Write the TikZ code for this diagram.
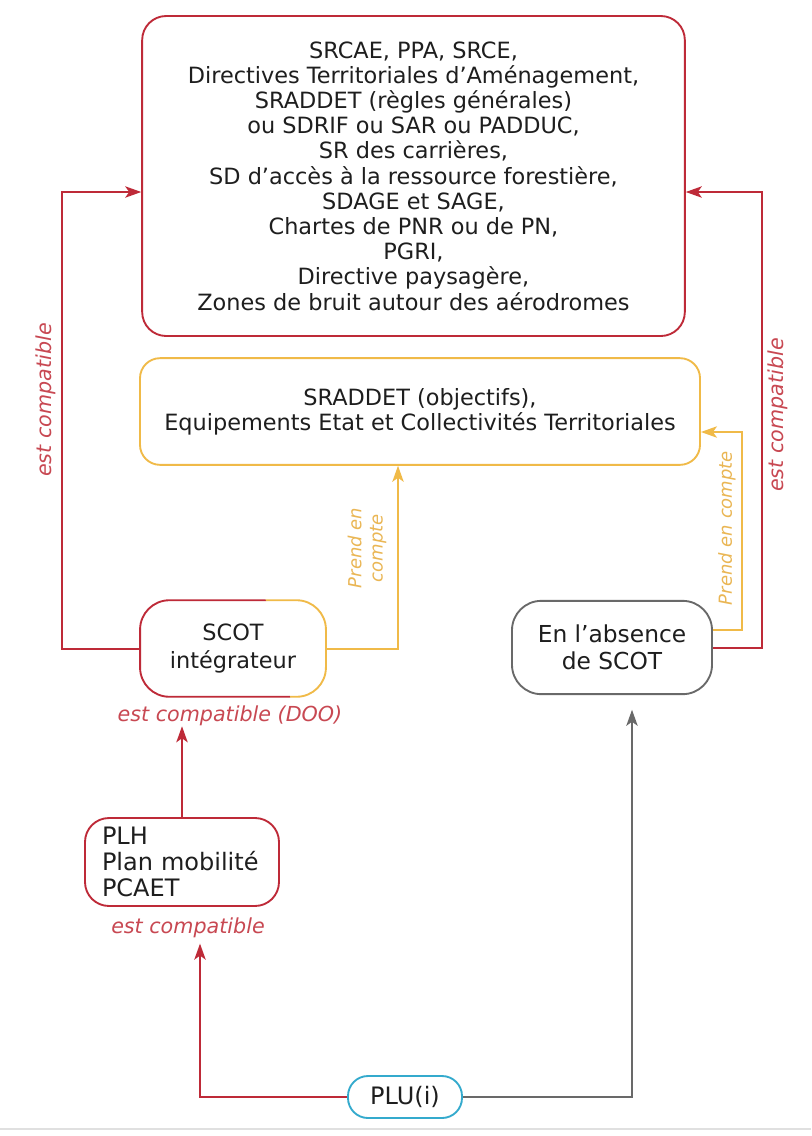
\documentclass[tikz,border=0pt]{standalone}
\usepackage{fontspec}
\setmainfont{DejaVu Sans}
\usepackage{tikz}
\usetikzlibrary{arrows.meta,positioning,calc}
\definecolor{rougebord}{RGB}{190,42,56}
\definecolor{rougetxt}{RGB}{200,72,82}
\definecolor{ambre}{RGB}{240,186,72}
\definecolor{ambretxt}{RGB}{234,182,84}
\definecolor{gristrait}{RGB}{105,105,105}
\definecolor{cyanplu}{RGB}{52,170,205}
\definecolor{encre}{RGB}{30,30,30}

\begin{document}
\begin{tikzpicture}[x=0.75pt, y=-0.75pt,
    font=\fontsize{16.8}{18.9}\selectfont, text=encre,
    box/.style={rounded corners=18pt, align=center, line width=1.4pt, inner sep=2pt},
    lbl/.style={font=\fontsize{15.5}{17}\selectfont\itshape, inner sep=0pt, align=center},
    petitlbl/.style={font=\fontsize{13.5}{16}\selectfont\itshape, inner sep=0pt, align=center},
    arr/.style={-{Stealth[length=12pt,width=8.5pt,inset=3pt]}, line width=1.5pt}]

    \fill[white] (0,0) rectangle (811,1136);
    \useasboundingbox (0,0) rectangle (811,1136);

    \node[box, draw=rougebord, minimum width=407pt, minimum height=240pt] (regles) at (413.5,176)
        {SRCAE, PPA, SRCE,\\Directives Territoriales d’Aménagement,\\SRADDET (règles générales)\\ou SDRIF ou SAR ou PADDUC,\\SR des carrières,\\SD d’accès à la ressource forestière,\\SDAGE et SAGE,\\Chartes de PNR ou de PN,\\PGRI,\\Directive paysagère,\\Zones de bruit autour des aérodromes};
    \node[box, draw=ambre, rounded corners=15pt, minimum width=420pt, minimum height=80pt] (objectifs) at (420,411.5)
        {SRADDET (objectifs),\\Equipements Etat et Collectivités Territoriales};
    \node[box, rounded corners=22pt, font=\fontsize{16.8}{20.5}\selectfont,
          minimum width=138pt, minimum height=71pt] (scot) at (233,648.5) {SCOT\\intégrateur};
    \node[box, draw=gristrait, rounded corners=22pt, font=\fontsize{17.5}{20.5}\selectfont,
          minimum width=150pt, minimum height=70pt] (absence) at (612,647.5) {En l’absence\\de SCOT};
    \node[box, draw=rougebord, align=left, font=\fontsize{18}{19.5}\selectfont,
          minimum width=145.5pt, minimum height=66pt, text width=120pt] (plh) at (182,862) {PLH\\Plan mobilité\\PCAET};
    \node[box, draw=cyanplu, rounded corners=15pt, font=\fontsize{18}{20}\selectfont,
          minimum width=85.5pt, minimum height=31.5pt] (plu) at (405,1097) {PLU(i)};

    % bord bicolore du SCOT
    \begin{scope}
        \clip (120,585) -- (262,585) -- (294,712) -- (120,712) -- cycle;
        \draw[rougebord, line width=1.4pt, rounded corners=22pt] (scot.north west) rectangle (scot.south east);
    \end{scope}
    \begin{scope}
        \clip (262,585) -- (340,585) -- (340,712) -- (294,712) -- cycle;
        \draw[ambre, line width=1.4pt, rounded corners=22pt] (scot.north west) rectangle (scot.south east);
    \end{scope}

    \node[lbl, text=rougetxt] (lbldoo) at (230,716) {est compatible (DOO)};
    \node[lbl, text=rougetxt] (lblplh) at (188,928) {est compatible};
    \node[lbl, text=rougetxt, rotate=90] (lblgauche) at (46,400) {est compatible};
    \node[lbl, text=rougetxt, rotate=90] (lbldroite) at (778,415) {est compatible};
    \node[petitlbl, text=ambretxt, rotate=90] (lblprend) at (367,548) {Prend en\\compte};
    \node[petitlbl, text=ambretxt, rotate=90] (lblprenddroite) at (727,528) {Prend en compte};

    \coordinate (coudegauche) at (62,192);
    \coordinate (coudedroite) at (762,192);
    \coordinate (coudeambre) at (742,432);

    \draw[arr, rougebord] (scot.west) -| (coudegauche) -- (coudegauche -| regles.west);
    \draw[arr, ambre] (scot.east) -| ([xshift=-16.5pt]objectifs.south);
    \draw[arr, ambre] ([yshift=13.5pt]absence.east) -| (coudeambre) -- (coudeambre -| objectifs.east);
    \draw[arr, rougebord] (absence.east) -| (coudedroite) -- (coudedroite -| regles.east);
    \draw[arr, rougebord] (plh.north) -- (plh.north |- lbldoo.south);
    \draw[arr, rougebord] (plu.west) -| ([xshift=9pt,yshift=-4pt]lblplh.south);
    \draw[arr, gristrait] (plu.east) -| ([xshift=15pt,yshift=-11pt]absence.south);

    \draw[black!12, line width=1.5pt] (0,1129) -- (811,1129);
\end{tikzpicture}
\end{document}
